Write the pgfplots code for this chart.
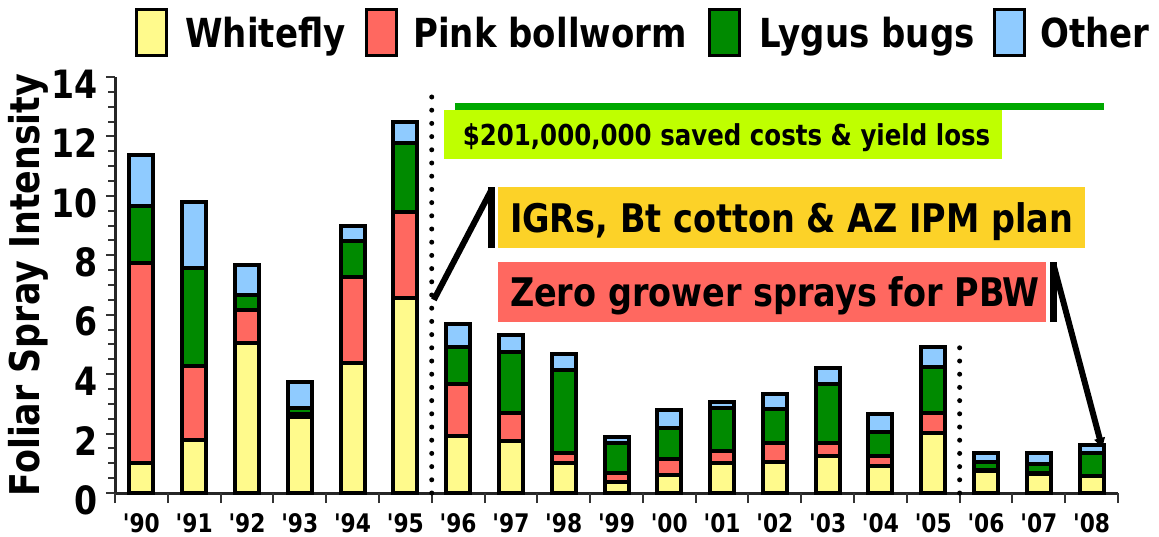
\documentclass[border=0pt]{standalone}
\usepackage{fontspec}
\setmainfont{DejaVu Sans}[FakeStretch=0.85, Ligatures=TeXOff]
\usepackage{pgfplots}
\pgfplotsset{compat=1.18}
\usepackage{pgfplotstable}
\usetikzlibrary{arrows.meta}

\definecolor{cW}{HTML}{FFFA8C}
\definecolor{cPB}{HTML}{FF6860}
\definecolor{cL}{HTML}{008A00}
\definecolor{cO}{HTML}{8FCBFF}
\definecolor{cLime}{HTML}{BFFF00}
\definecolor{cOrange}{HTML}{FCD228}
\definecolor{cGLine}{HTML}{00A800}

\pgfplotstableread{
i W PB L O
0 1.00 6.75 1.91 1.70
1 1.78 2.50 3.29 2.21
2 5.04 1.12 0.51 1.01
3 2.55 0.11 0.19 0.90
4 4.37 2.89 1.22 0.49
5 6.55 2.92 2.30 0.70
6 1.92 1.75 1.26 0.75
7 1.76 0.92 2.06 0.58
8 1.00 0.36 2.78 0.53
9 0.36 0.32 1.01 0.18
10 0.61 0.53 1.04 0.61
11 1.00 0.42 1.43 0.21
12 1.04 0.65 1.13 0.50
13 1.26 0.41 1.99 0.56
14 0.92 0.34 0.80 0.59
15 2.01 0.67 1.57 0.65
16 0.73 0.04 0.26 0.31
17 0.64 0.03 0.30 0.37
18 0.58 0.00 0.76 0.28
}\spraydata

\begin{document}
\begin{tikzpicture}
\begin{axis}[
  scale only axis, width=501.5pt, height=208pt,
  xmin=-0.5, xmax=18.5, ymin=0, ymax=14,
  ybar stacked, bar width=12pt,
  axis x line*=bottom, axis y line*=left,
  axis line style={line width=1.5pt, black!85},
  xtick={0,...,18},
  xticklabels={'90,'91,'92,'93,'94,'95,'96,'97,'98,'99,'00,'01,'02,'03,'04,'05,'06,'07,'08},
  major x tick style={draw=none},
  extra x ticks={-0.5,0.5,...,18.5},
  extra x tick labels={},
  extra x tick style={major tick length=5pt, major x tick style={draw=black!80, line width=1pt}},
  ytick={0,2,...,14},
  minor y tick num=3,
  tick align=outside,
  major tick length=4.5pt, minor tick length=3.5pt,
  tick style={line width=1pt, black!80},
  /pgf/number format/assume math mode=true,
  yticklabel style={font=\bfseries\fontsize{19.5pt}{19.5pt}\selectfont, inner sep=0pt, anchor=east, xshift=-4pt, yshift=-3.5pt},
  xticklabel style={font=\bfseries\fontsize{12.8pt}{12.8pt}\selectfont, inner sep=0pt, anchor=north, yshift=-5.5pt},
  ylabel={Foliar Spray Intensity},
  ylabel style={at={(axis description cs:-0.0748,0.5)}, anchor=base, font=\bfseries\fontsize{20.5pt}{20.5pt}\selectfont},
  clip=false,
  every axis plot/.append style={draw=black, line width=2pt},
]
\addplot[fill=cW] table[x=i, y=W] {\spraydata};
\addplot[fill=cPB] table[x=i, y=PB] {\spraydata};
\addplot[fill=cL] table[x=i, y=L] {\spraydata};
\addplot[fill=cO] table[x=i, y=O] {\spraydata};

% dotted separators
\draw[line width=2.5pt, line cap=round, dash pattern=on 0pt off 6.6pt] (axis cs:5.5,0) -- (axis cs:5.5,13.74);
\draw[line width=2.5pt, line cap=round, dash pattern=on 0pt off 6.6pt] (axis cs:15.5,0) -- (axis cs:15.5,5.25);

% savings annotation
\fill[cLime] (axis cs:5.74,11.24) rectangle (axis cs:16.31,12.89);
\draw[cGLine, line width=3.5pt] (axis cs:5.94,13.01) -- (axis cs:18.23,13.01);
\coordinate (tA) at (axis cs:6.08,11.71);

% IGRs annotation
\fill[cOrange] (axis cs:6.755,8.245) rectangle (axis cs:17.87,10.30);
\coordinate (tB) at (axis cs:6.975,8.78);
\draw[line width=3.5pt] (axis cs:6.63,8.245) -- (axis cs:6.63,10.30);
\draw[line width=3pt] (axis cs:5.54,6.50) -- (axis cs:6.63,10.20);

% PBW annotation
\fill[cPB] (axis cs:6.755,5.755) rectangle (axis cs:17.14,7.774);
\coordinate (tC) at (axis cs:6.975,6.26);
\draw[line width=3.5pt] (axis cs:17.28,5.755) -- (axis cs:17.28,7.774);
\draw[line width=3pt, -{Latex[length=6pt,width=6pt]}] (axis cs:17.28,7.67) -- (axis cs:18.21,1.45);
\end{axis}

\node[anchor=base west, inner sep=0pt, font=\bfseries\fontsize{14.4pt}{14.4pt}\selectfont] at (tA) {\$201,000,000 saved costs \& yield loss};
\node[anchor=base west, inner sep=0pt, font=\bfseries\fontsize{19.7pt}{19.7pt}\selectfont] at (tB) {IGRs, Bt cotton \& AZ IPM plan};
\node[anchor=base west, inner sep=0pt, font=\bfseries\fontsize{19.7pt}{19.7pt}\selectfont] at (tC) {Zero grower sprays for PBW};

% legend
\begin{scope}[font=\bfseries\fontsize{20pt}{20pt}\selectfont]
\filldraw[fill=cW, draw=black, line width=1.5pt] (10.75pt,218.75pt) rectangle (25.75pt,241.75pt);
\node[anchor=base west, inner sep=0pt] at (35pt,222.5pt) {Whitefly};
\filldraw[fill=cPB, draw=black, line width=1.5pt] (125.75pt,218.75pt) rectangle (140.75pt,241.75pt);
\node[anchor=base west, inner sep=0pt] at (149pt,222.5pt) {Pink bollworm};
\filldraw[fill=cL, draw=black, line width=1.5pt] (297.25pt,218.75pt) rectangle (312.25pt,241.75pt);
\node[anchor=base west, inner sep=0pt] at (322pt,222.5pt) {Lygus bugs};
\filldraw[fill=cO, draw=black, line width=1.5pt] (439.75pt,218.75pt) rectangle (454.75pt,241.75pt);
\node[anchor=base west, inner sep=0pt] at (462.5pt,222.5pt) {Other};
\end{scope}

\pgfresetboundingbox
\useasboundingbox (-57.5pt,-21.5pt) rectangle (522pt,246.5pt);
\end{tikzpicture}
\end{document}
